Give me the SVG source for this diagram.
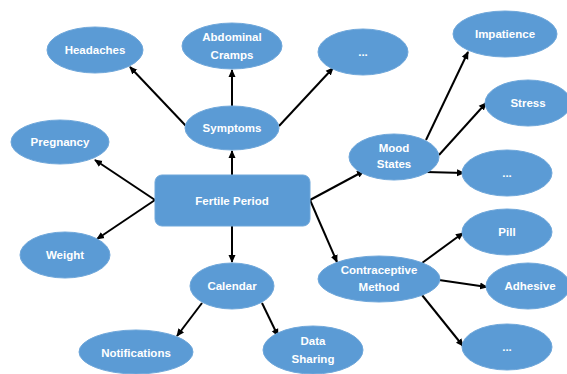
<svg xmlns="http://www.w3.org/2000/svg" width="567" height="374" viewBox="0 0 567 374">
<defs>
<marker id="ah" markerWidth="8" markerHeight="8" refX="7" refY="4" orient="auto" markerUnits="userSpaceOnUse">
<path d="M0,0.5 L8,4 L0,7.5 Z" fill="#000"/>
</marker>
<style>
.n{fill:#5B9BD5;stroke:#6fa7da;stroke-width:1}
.t{font-family:"Liberation Sans",Arial,sans-serif;font-weight:bold;font-size:11.5px;fill:#fff;text-anchor:middle}
.c line{stroke:#000;stroke-width:2;marker-end:url(#ah)}
</style>
</defs>
<rect width="567" height="374" fill="#fff"/>
<g class="c" id="connectors">
<line x1="186" y1="126" x2="130" y2="67"/>
<line x1="232" y1="106" x2="232" y2="70"/>
<line x1="279" y1="126" x2="333" y2="68"/>
<line x1="232" y1="175" x2="232" y2="151"/>
<line x1="155" y1="200" x2="95" y2="160"/>
<line x1="155" y1="200" x2="97" y2="239"/>
<line x1="232" y1="226" x2="232" y2="262"/>
<line x1="310" y1="200" x2="364" y2="171"/>
<line x1="310" y1="200" x2="337" y2="262"/>
<line x1="202" y1="303" x2="177" y2="336"/>
<line x1="262" y1="303" x2="278" y2="336"/>
<line x1="426" y1="140" x2="468" y2="52"/>
<line x1="439" y1="155" x2="486" y2="103"/>
<line x1="426" y1="172" x2="464" y2="173"/>
<line x1="422" y1="263" x2="463" y2="233"/>
<line x1="439" y1="280" x2="487" y2="287"/>
<line x1="422" y1="295" x2="463" y2="346"/>
</g>
<g id="fertile"><rect class="n" x="155" y="175" width="155" height="51" rx="7"/><text class="t" x="232" y="205">Fertile Period</text></g>
<g id="headaches"><ellipse class="n" cx="95" cy="50" rx="48" ry="23"/><text class="t" x="95" y="54">Headaches</text></g>
<g id="cramps"><ellipse class="n" cx="232" cy="46" rx="50" ry="23"/><text class="t" x="232" y="41">Abdominal</text><text class="t" x="232" y="59">Cramps</text></g>
<g id="symptoms"><ellipse class="n" cx="232" cy="128" rx="47" ry="22"/><text class="t" x="232" y="132">Symptoms</text></g>
<g id="dots1"><ellipse class="n" cx="363" cy="52" rx="45" ry="23"/><text class="t" x="363" y="56">...</text></g>
<g id="pregnancy"><ellipse class="n" cx="60" cy="142" rx="49" ry="22"/><text class="t" x="60" y="146">Pregnancy</text></g>
<g id="weight"><ellipse class="n" cx="65" cy="255" rx="45" ry="23"/><text class="t" x="65" y="259">Weight</text></g>
<g id="calendar"><ellipse class="n" cx="232" cy="286" rx="42" ry="23"/><text class="t" x="232" y="290">Calendar</text></g>
<g id="notifications"><ellipse class="n" cx="136" cy="352" rx="57" ry="22"/><text class="t" x="136" y="357">Notifications</text></g>
<g id="datasharing"><ellipse class="n" cx="313" cy="350" rx="50" ry="24"/><text class="t" x="313" y="345">Data</text><text class="t" x="313" y="363">Sharing</text></g>
<g id="mood"><ellipse class="n" cx="394" cy="157" rx="45" ry="23"/><text class="t" x="394" y="152">Mood</text><text class="t" x="394" y="168">States</text></g>
<g id="impatience"><ellipse class="n" cx="505" cy="34" rx="52" ry="23"/><text class="t" x="505" y="38">Impatience</text></g>
<g id="stress"><ellipse class="n" cx="528" cy="103" rx="43" ry="23"/><text class="t" x="528" y="107">Stress</text></g>
<g id="dots2"><ellipse class="n" cx="507" cy="173" rx="45" ry="23"/><text class="t" x="507" y="177">...</text></g>
<g id="contraceptive"><ellipse class="n" cx="379" cy="279" rx="61" ry="23"/><text class="t" x="379" y="274">Contraceptive</text><text class="t" x="379" y="291">Method</text></g>
<g id="pill"><ellipse class="n" cx="507" cy="232" rx="45" ry="23"/><text class="t" x="507" y="236">Pill</text></g>
<g id="adhesive"><ellipse class="n" cx="528" cy="286" rx="42" ry="23"/><text class="t" x="530" y="290">Adhesive</text></g>
<g id="dots3"><ellipse class="n" cx="507" cy="347" rx="45" ry="23"/><text class="t" x="507" y="351">...</text></g>
</svg>
